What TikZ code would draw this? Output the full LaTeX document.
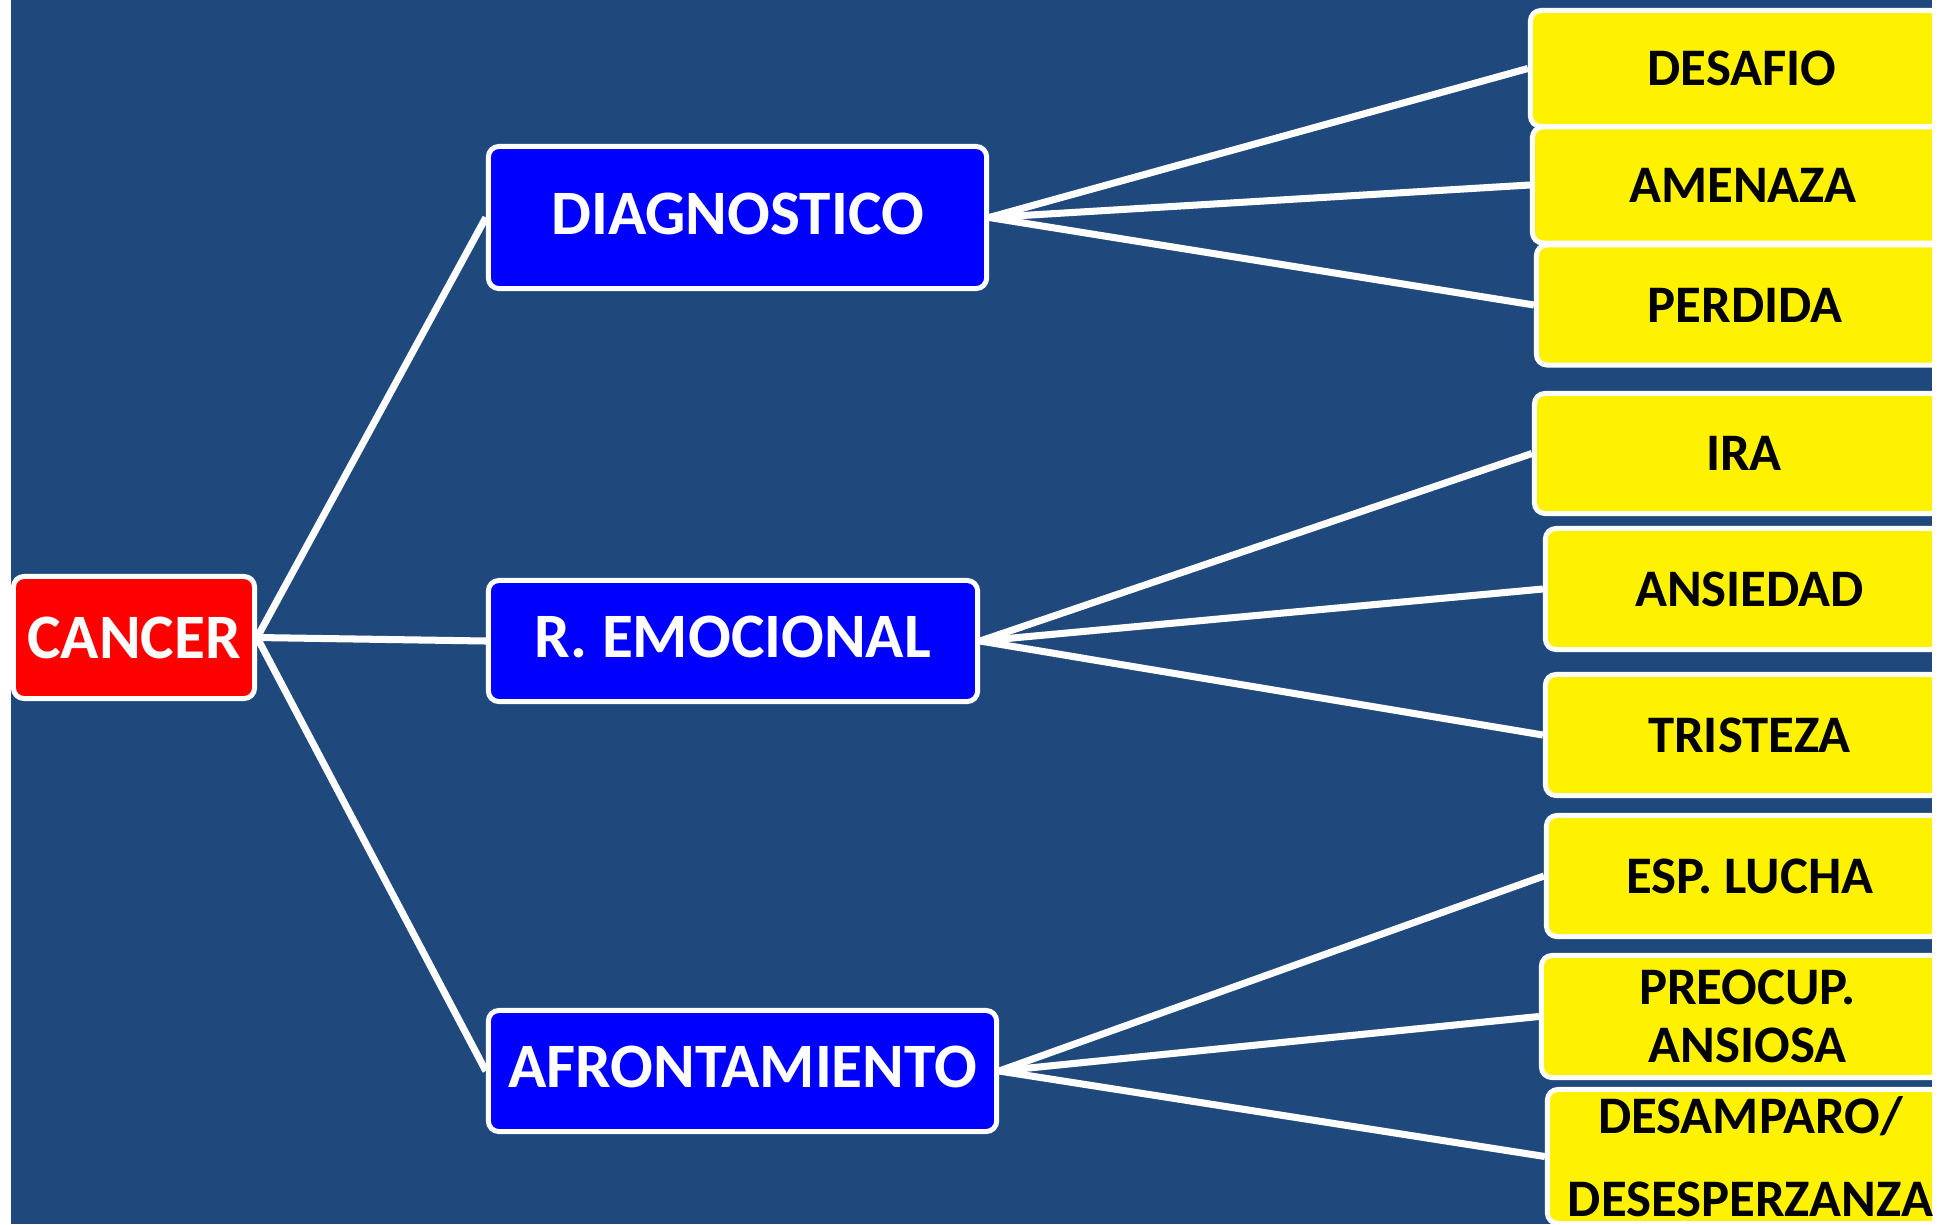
\documentclass[tikz,border=0pt]{standalone}
\usepackage{fontspec}
\setmainfont{Carlito}
\definecolor{slide}{HTML}{1F497D}
\begin{document}
\begin{tikzpicture}[x=0.01cm,y=-0.01cm]
\tikzset{box/.style={draw=white,line width=1.42pt,rounded corners=3pt,inner sep=0pt},
  main/.style={box,fill=blue,text=white,minimum height=1.21cm,text depth=2.2pt,
    font=\bfseries\fontsize{18}{20}\selectfont},
  leaf/.style={box,fill=yellow,text=black,align=center,
    font=\bfseries\fontsize{15}{16.5}\selectfont},
  link/.style={white,line width=2pt}}
% page and slide
\fill[white] (0,0) rectangle (1952,1224);
\useasboundingbox (0,0) rectangle (1952,1224);
\clip (11,0) rectangle (1932,1224);
\fill[slide] (11,0) rectangle (1932,1224);
% root and the three branches
\node[main,fill=red,text depth=0pt,minimum width=2.41cm,minimum height=1.22cm] (cancer) at (134,637.5) {CANCER};
\node[main,minimum width=4.98cm,minimum height=1.42cm] (diag) at (737.5,217.5) {DIAGNOSTICO};
\node[main,minimum width=4.89cm] (emoc) at (733,641) {R. EMOCIONAL};
\node[main,minimum width=5.08cm] (afront) at (742.5,1071) {AFRONTAMIENTO};
% the leaves
\node[leaf,minimum width=4.23cm,minimum height=1.16cm] (desafio) at (1742,68.5) {DESAFIO};
\node[leaf,minimum width=4.21cm,minimum height=1.16cm] (amenaza) at (1743,185) {AMENAZA};
\node[leaf,minimum width=4.17cm,minimum height=1.20cm] (perdida) at (1745,305) {PERDIDA};
\node[leaf,minimum width=4.19cm,minimum height=1.20cm] (ira) at (1744,453.5) {IRA};
\node[leaf,minimum width=4.08cm,minimum height=1.21cm] (ansiedad) at (1749.5,589) {ANSIEDAD};
\node[leaf,minimum width=4.08cm,minimum height=1.21cm] (tristeza) at (1749.5,735) {TRISTEZA};
\node[leaf,minimum width=4.07cm,minimum height=1.21cm] (lucha) at (1750,876) {ESP. LUCHA};
\node[leaf,minimum width=4.12cm,minimum height=1.22cm] (preocup) at (1747.5,1016.5) {PREOCUP.\\ANSIOSA};
\node[leaf,minimum width=4.06cm,minimum height=1.34cm] (desamparo) at (1750.5,1156.5) {DESAMPARO/\\[7pt]DESESPERZANZA};
% connectors
\foreach \mid in {diag,emoc,afront}
  \draw[link] (cancer.east) -- (\mid.west);
\foreach \leaf in {desafio,amenaza,perdida}
  \draw[link] (diag.east) -- (\leaf.west);
\foreach \leaf in {ira,ansiedad,tristeza}
  \draw[link] (emoc.east) -- (\leaf.west);
\foreach \leaf in {lucha,preocup,desamparo}
  \draw[link] (afront.east) -- (\leaf.west);
\end{tikzpicture}
\end{document}
